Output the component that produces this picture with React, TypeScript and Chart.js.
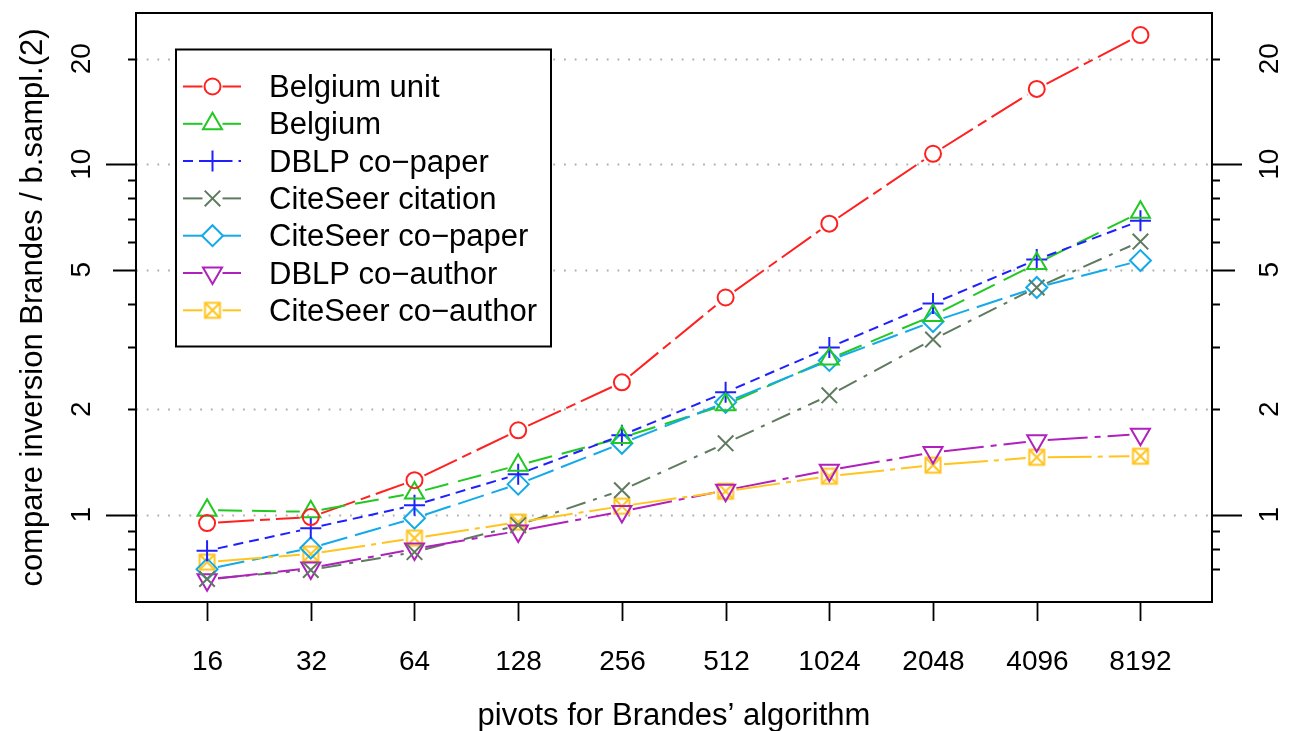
import React, { useEffect, useRef } from 'react';
import { Chart, registerables } from 'chart.js';
import { drawPoint } from 'chart.js/helpers';

Chart.register(...registerables);

// ---------- data ----------
const pivots = [16, 32, 64, 128, 256, 512, 1024, 2048, 4096, 8192];
const seriesNames = [
  'Belgium unit',
  'Belgium',
  'DBLP co\u2212paper',
  'CiteSeer citation',
  'CiteSeer co\u2212paper',
  'DBLP co\u2212author',
  'CiteSeer co\u2212author',
];
const belgiumUnit = [0.946, 0.984, 1.254, 1.741, 2.385, 4.166, 6.768, 10.71, 16.41, 23.38];
const belgium = [1.03, 1.019, 1.153, 1.383, 1.659, 2.06, 2.78, 3.7, 5.21, 7.3];
const dblpCoPaper = [0.789, 0.915, 1.064, 1.304, 1.685, 2.234, 3.0, 4.005, 5.345, 6.9];
const citeseerCitation = [0.655, 0.695, 0.782, 0.933, 1.174, 1.598, 2.19, 3.162, 4.448, 6.016];
const citeseerCoPaper = [0.699, 0.803, 0.977, 1.222, 1.598, 2.092, 2.755, 3.558, 4.448, 5.31];
const dblpCoAuthor = [0.652, 0.704, 0.798, 0.898, 1.021, 1.174, 1.339, 1.505, 1.626, 1.697];
const citeseerCoAuthor = [0.732, 0.772, 0.857, 0.952, 1.057, 1.166, 1.287, 1.384, 1.458, 1.468];
const seriesValues = [belgiumUnit, belgium, dblpCoPaper, citeseerCitation, citeseerCoPaper, dblpCoAuthor, citeseerCoAuthor];

const yTickValues = [1, 2, 5, 10, 20];
const yTickLabels = ['1', '2', '5', '10', '20'];
const yMinorTicks = [0.7, 0.8, 0.9, 3, 4, 6, 7, 8, 9];
const xTickLabels = pivots.map(String);
const xTitle = 'pivots for Brandes\u2019 algorithm';
const yTitle = 'compare inversion Brandes / b.sampl.(2)';

// ---------- styles ----------
const colors = ['#FF2020', '#22C822', '#2020FF', '#5F7B5F', '#14AAE8', '#B020BC', '#FFC41E'];
const dashes = [
  [36, 6, 10, 6],
  [24, 10],
  [10, 6],
  [20, 8, 4, 8],
  [27, 8],
  [40, 7, 6, 7],
  [44, 6, 5, 6],
];
const radii = [8, 11, 10.5, 11, 10.5, 11, 10];
const rotations = [0, 0, 0, 0, 0, 180, 0];

function boxX(color: string) {
  const c = document.createElement('canvas');
  const s = 20;
  c.width = s;
  c.height = s;
  const g = c.getContext('2d')!;
  g.strokeStyle = color;
  g.lineWidth = 2;
  const a = 2.5;
  const b = 17.5;
  g.strokeRect(a, a, b - a, b - a);
  g.beginPath();
  g.moveTo(a, a);
  g.lineTo(b, b);
  g.moveTo(b, a);
  g.lineTo(a, b);
  g.stroke();
  return c;
}

const FONT = '"Liberation Sans", Arial, Helvetica, sans-serif';

export default function App() {
  const ref = useRef<HTMLCanvasElement | null>(null);

  useEffect(() => {
    const canvas = ref.current;
    if (!canvas) return;
    const pointStyles: any[] = ['circle', 'triangle', 'cross', 'crossRot', 'rectRot', 'triangle', boxX(colors[6])];
    const GAP = 11;

    const rPlugin = {
      id: 'rstyle',
      beforeDatasetsDraw(chart: any) {
        const { ctx, chartArea: a, scales } = chart;
        const y = scales.y;
        ctx.save();
        // dotted grid lines
        ctx.strokeStyle = '#AEAEAE';
        ctx.lineWidth = 1.8;
        ctx.setLineDash([1.8, 8.9]);
        yTickValues.forEach((v) => {
          const py = Math.round(y.getPixelForValue(v)) + 0.5;
          ctx.beginPath();
          ctx.moveTo(a.left, py);
          ctx.lineTo(a.right, py);
          ctx.stroke();
        });
        // connecting lines with gaps around points (type "b")
        ctx.lineWidth = 2;
        ctx.lineCap = 'butt';
        chart.data.datasets.forEach((ds: any, i: number) => {
          const meta = chart.getDatasetMeta(i);
          const pts = meta.data;
          ctx.strokeStyle = colors[i];
          for (let j = 0; j < pts.length - 1; j++) {
            const p0 = pts[j];
            const p1 = pts[j + 1];
            const dx = p1.x - p0.x;
            const dy = p1.y - p0.y;
            const len = Math.hypot(dx, dy);
            if (len <= 2 * GAP) continue;
            const ux = dx / len;
            const uy = dy / len;
            ctx.setLineDash(dashes[i]);
            ctx.lineDashOffset = 0;
            ctx.beginPath();
            ctx.moveTo(p0.x + ux * GAP, p0.y + uy * GAP);
            ctx.lineTo(p1.x - ux * GAP, p1.y - uy * GAP);
            ctx.stroke();
          }
        });
        ctx.restore();
      },
      afterDraw(chart: any) {
        const { ctx, chartArea: a, scales } = chart;
        const x = scales.x;
        const y = scales.y;
        ctx.save();
        ctx.setLineDash([]);
        ctx.strokeStyle = '#000';
        ctx.fillStyle = '#000';
        // box
        ctx.lineWidth = 2;
        ctx.strokeRect(a.left, a.top, a.right - a.left, a.bottom - a.top);

        // x ticks + labels
        ctx.lineWidth = 1.8;
        ctx.font = '28px ' + FONT;
        ctx.textAlign = 'center';
        ctx.textBaseline = 'alphabetic';
        pivots.forEach((p, i) => {
          const px = Math.round(x.getPixelForValue(p)) + 0.5;
          ctx.beginPath();
          ctx.moveTo(px, a.bottom);
          ctx.lineTo(px, a.bottom + 19);
          ctx.stroke();
          ctx.fillText(xTickLabels[i], px, a.bottom + 68);
        });

        // y ticks both sides
        const tickLen = (v: number) => (v === 1 || v === 10 ? 30 : v === 5 ? 23 : 8);
        const allTicks = [...yTickValues, ...yMinorTicks];
        allTicks.forEach((v) => {
          const py = Math.round(y.getPixelForValue(v)) + 0.5;
          const L = tickLen(v);
          ctx.beginPath();
          ctx.moveTo(a.left, py);
          ctx.lineTo(a.left - L, py);
          ctx.moveTo(a.right, py);
          ctx.lineTo(a.right + L, py);
          ctx.stroke();
        });
        // y labels rotated
        yTickValues.forEach((v, i) => {
          const py = y.getPixelForValue(v);
          ctx.save();
          ctx.translate(a.left - 46, py);
          ctx.rotate(-Math.PI / 2);
          ctx.fillText(yTickLabels[i], 0, 0);
          ctx.restore();
          ctx.save();
          ctx.translate(a.right + 66, py);
          ctx.rotate(-Math.PI / 2);
          ctx.fillText(yTickLabels[i], 0, 0);
          ctx.restore();
        });

        // titles
        ctx.font = '31px ' + FONT;
        ctx.fillText(xTitle, (a.left + a.right) / 2, a.bottom + 123);
        ctx.save();
        ctx.translate(42, (a.top + a.bottom) / 2);
        ctx.rotate(-Math.PI / 2);
        ctx.fillText(yTitle, 0, 0);
        ctx.restore();

        // legend
        const bx = a.left + 40;
        const by = a.top + 36.5;
        const bw = 375;
        const bh = 297;
        ctx.fillStyle = '#fff';
        ctx.fillRect(bx, by, bw, bh);
        ctx.strokeStyle = '#000';
        ctx.lineWidth = 2;
        ctx.strokeRect(bx, by, bw, bh);
        ctx.font = '31px ' + FONT;
        ctx.textAlign = 'left';
        ctx.textBaseline = 'middle';
        seriesNames.forEach((name, i) => {
          const cy = by + 37 + i * 37.3;
          const x0 = bx + 7;
          const x1 = bx + 65;
          const mx = bx + 36.5;
          ctx.strokeStyle = colors[i];
          ctx.lineWidth = 2;
          ctx.setLineDash(dashes[i]);
          ctx.beginPath();
          ctx.moveTo(x0, cy);
          ctx.lineTo(mx - 10, cy);
          ctx.stroke();
          ctx.beginPath();
          ctx.moveTo(mx + 10, cy);
          ctx.lineTo(x1, cy);
          ctx.stroke();
          ctx.setLineDash([]);
          ctx.fillStyle = 'rgba(0,0,0,0)';
          drawPoint(ctx, { pointStyle: pointStyles[i], rotation: rotations[i], radius: radii[i], borderWidth: 2 } as any, mx, cy);
          ctx.fillStyle = '#000';
          ctx.fillText(name, bx + 93, cy + 2);
        });
        ctx.restore();
      },
    };

    const datasets = seriesValues.map((vals, i) => ({
      label: seriesNames[i],
      data: pivots.map((p, j) => ({ x: p, y: vals[j] })),
      showLine: false,
      borderColor: colors[i],
      backgroundColor: 'rgba(0,0,0,0)',
      pointStyle: pointStyles[i],
      pointRotation: rotations[i],
      pointRadius: radii[i],
      pointBorderWidth: 2,
      pointBorderColor: colors[i],
      pointBackgroundColor: 'rgba(0,0,0,0)',
    }));

    const chart = new Chart(canvas, {
      type: 'scatter',
      data: { datasets },
      options: {
        animation: false,
        responsive: false,
        devicePixelRatio: 1,
        layout: { padding: { left: 136, top: 12, right: 81, bottom: 129 } },
        scales: {
          x: { type: 'logarithmic', min: 9.95, max: 13216, display: false },
          y: { type: 'logarithmic', min: 0.5632, max: 27.02, display: false },
        },
        plugins: {
          legend: { display: false },
          tooltip: { enabled: false },
        },
        events: [],
      },
      plugins: [rPlugin],
    } as any);

    return () => chart.destroy();
  }, []);

  return (
    <div style={{ position: 'fixed', left: 0, top: 0, width: 1293, height: 731, background: '#fff' }}>
      <canvas ref={ref} width={1293} height={731} style={{ display: 'block' }} />
    </div>
  );
}
